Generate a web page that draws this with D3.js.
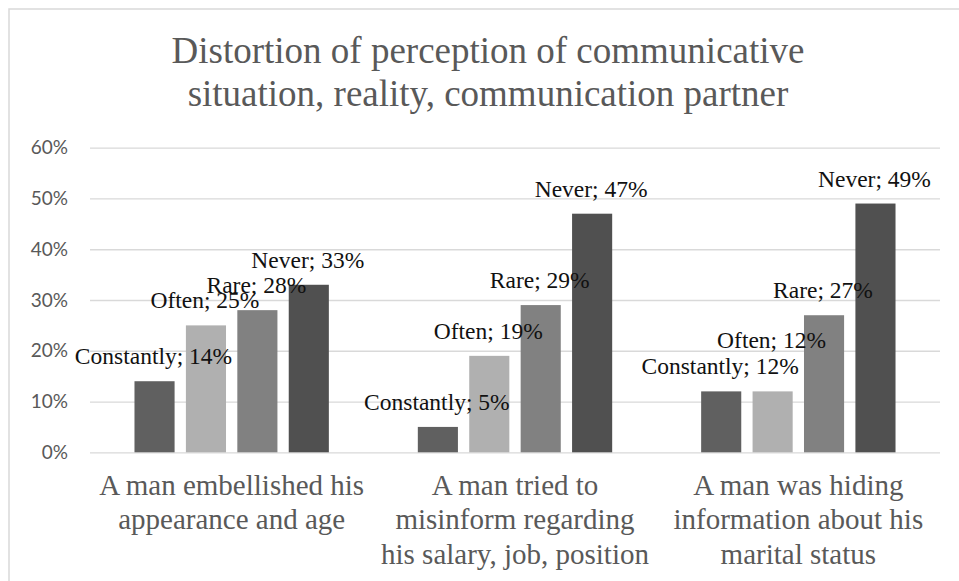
<!DOCTYPE html>
<html>
<head>
<meta charset="utf-8">
<script src="https://cdn.jsdelivr.net/npm/d3@7"></script>
<style>
  html, body { margin: 0; padding: 0; background: #fff; }
  svg { display: block; }
</style>
</head>
<body>
<svg id="chart" width="959" height="581"></svg>
<script>
// ---- Data ----
const titleLines = ["Distortion of perception of communicative", "situation, reality, communication partner"];
const categories = [
  "A man embellished his\nappearance and age",
  "A man tried to\nmisinform regarding\nhis salary, job, position",
  "A man was hiding\ninformation about his\nmarital status"
];
const seriesNames = ["Constantly", "Often", "Rare", "Never"];
const constantly = [0.14, 0.05, 0.12];
const often      = [0.25, 0.19, 0.12];
const rare       = [0.28, 0.29, 0.27];
const never      = [0.33, 0.47, 0.49];
const yTicks = [0, 0.1, 0.2, 0.3, 0.4, 0.5, 0.6];
const seriesColors = ["#606060", "#b0b0b0", "#818181", "#505050"];

const seriesValues = [constantly, often, rare, never];

const SERIF = '"Liberation Serif"';
const SANS = '"Lato"';

// ---- Layout ----
const svg = d3.select("#chart");
const W = 959, H = 581;
const plot = { left: 90, right: 940, top: 147.7, bottom: 452.3 };

svg.append("rect").attr("x", 0).attr("y", 0).attr("width", W).attr("height", H).attr("fill", "#fff");
svg.append("rect")
  .attr("x", 9).attr("y", 9).attr("width", 958).attr("height", 600)
  .attr("fill", "none").attr("stroke", "#d9d9d9").attr("stroke-width", 1.5);

const y = d3.scaleLinear().domain([0, 0.6]).range([plot.bottom, plot.top]);
const x0 = d3.scaleBand().domain(categories).range([plot.left, plot.right]).padding(0);
const B = x0.bandwidth();
const x1 = d3.scaleBand().domain(seriesNames).range([B * 0.157, B * 0.843]).paddingInner(0.22).paddingOuter(0);

// Title
svg.append("g").selectAll("text").data(titleLines).join("text")
  .style("font-family", SERIF)
  .attr("x", 488)
  .attr("y", (d, i) => 62.7 + i * 43.3)
  .attr("text-anchor", "middle")
  .style("font-size", "37px")
  .attr("fill", "#595959")
  .text(d => d);

// Gridlines + y axis
const yAxis = d3.axisLeft(y).tickValues(yTicks).tickFormat(d3.format(".0%")).tickSize(-(plot.right - plot.left)).tickPadding(22);
const gy = svg.append("g").attr("transform", `translate(${plot.left},0)`).call(yAxis);
gy.select(".domain").remove();
gy.selectAll(".tick line").attr("stroke", "#d9d9d9").attr("stroke-width", 1.3);
gy.selectAll(".tick text")
  .style("font-family", SANS)
  .style("font-size", "19px")
  .attr("fill", "#595959");

// Bars
const groups = svg.append("g").selectAll("g").data(categories).join("g")
  .attr("transform", d => `translate(${x0(d)},0)`);

groups.selectAll("rect")
  .data((c, ci) => seriesNames.map((s, si) => ({ s, si, v: seriesValues[si][ci] })))
  .join("rect")
  .attr("x", d => x1(d.s))
  .attr("width", x1.bandwidth())
  .attr("y", d => y(d.v))
  .attr("height", d => y(0) - y(d.v))
  .attr("fill", d => seriesColors[d.si]);

// Data labels with simple overlap avoidance
const fmt = d3.format(".0%");
const labelG = svg.append("g");
categories.forEach((c, ci) => {
  const placed = [];
  seriesNames.forEach((s, si) => {
    const v = seriesValues[si][ci];
    const cx = x0(c) + x1(s) + x1.bandwidth() / 2 - 1;
    let by = y(v) - 17;
    const t = labelG.append("text")
      .style("font-family", SERIF)
      .attr("x", cx)
      .attr("text-anchor", "middle")
      .style("font-size", "23.5px")
      .attr("fill", "#111")
      .text(`${s}; ${fmt(v)}`);
    const w = t.node().getComputedTextLength();
    const l = cx - w / 2, r = cx + w / 2;
    for (const p of placed) {
      if (l < p.r && r > p.l && Math.abs(p.by - by) < 10) {
        by = p.by - 26.7;
      }
    }
    t.attr("y", by);
    placed.push({ l, r, by });
  });
});

// Category labels
const catG = svg.append("g");
categories.forEach(c => {
  const lines = c.split("\n");
  catG.append("g").selectAll("text").data(lines).join("text")
    .style("font-family", SERIF)
    .attr("x", x0(c) + B / 2)
    .attr("y", (d, i) => 495 + i * 34.4)
    .attr("text-anchor", "middle")
    .style("font-size", "29px")
    .attr("fill", "#595959")
    .text(d => d);
});
</script>
</body>
</html>
